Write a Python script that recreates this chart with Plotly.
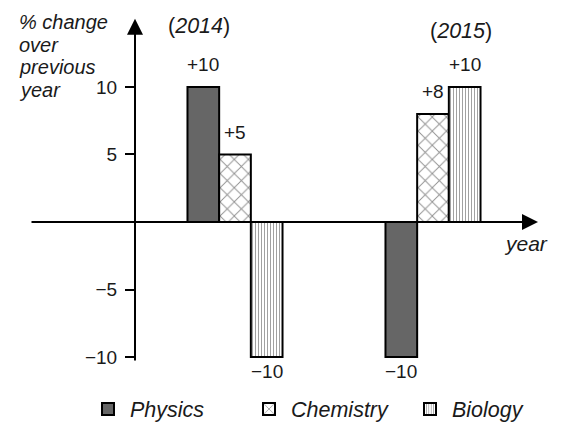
import plotly.graph_objects as go

# ---- data ----
years = ["2014", "2015"]
subjects = ["Physics", "Chemistry", "Biology"]
physics = [10, -10]
chemistry = [5, 8]
biology = [-10, 10]
y_ticks = [-10, -5, 5, 10]

series = {"Physics": physics, "Chemistry": chemistry, "Biology": biology}

# ---- styles ----
FONT = "Liberation Sans, Arial, sans-serif"
TXT = "#1a1a1a"
styles = {
    "Physics": dict(color="#666666", line=dict(color="black", width=2)),
    "Chemistry": dict(color="white", line=dict(color="black", width=2),
                      pattern=dict(shape="x", size=10, solidity=0.18,
                                   fgcolor="#222222", bgcolor="white", fillmode="overlay")),
    "Biology": dict(color="white", line=dict(color="black", width=2),
                    pattern=dict(shape="|", size=3, solidity=0.35,
                                 fgcolor="#444444", bgcolor="white", fillmode="overlay")),
}

# page has an 8px body margin: figure is offset by OFF
OFF = 8
W, H = 565 - OFF, 423 - OFF
PT, PB = 18, 362          # plot area top/bottom in page pixels
PH = PB - PT

xpos = list(range(len(years)))
BARGAP = 0.52
bar_w = (1 - BARGAP) / len(subjects)
X0_PAGE, X_UNIT = 235, 198  # page pixel of first year, pixels per year


def xdata(page_x):
    return (page_x - X0_PAGE) / X_UNIT


def px(page_x):
    return (page_x - OFF) / W


def py(page_y):
    return (PB - page_y) / PH


fig = go.Figure()
for s in subjects:
    fig.add_trace(go.Bar(x=xpos, y=series[s], name=s, marker=styles[s]))


def fmt(v):
    return f"+{v}" if v > 0 else f"\u2212{abs(v)}"


# value labels
for i, s in enumerate(subjects):
    for j, v in enumerate(series[s]):
        fig.add_annotation(x=xpos[j] + (i - 1) * bar_w, y=v, xref="x", yref="y",
                           text=fmt(v), showarrow=False, yanchor="middle",
                           yshift=22 if v > 0 else -14,
                           font=dict(family=FONT, size=19, color=TXT))

# axes drawn as arrows
Y_TOP, Y_BOT = 15.11, -10.37
X_LEFT, X_RIGHT = xdata(OFF), xdata(565)
yaxis_x = xdata(135)
fig.add_annotation(x=yaxis_x, y=15.05, ax=yaxis_x, ay=Y_BOT, xref="x", yref="y",
                   axref="x", ayref="y", text="", showarrow=True, arrowhead=2,
                   arrowsize=1.6, arrowwidth=2, arrowcolor="black", standoff=0)
fig.add_annotation(x=xdata(538), y=0, ax=xdata(30), ay=0, xref="x", yref="y",
                   axref="x", ayref="y", text="", showarrow=True, arrowhead=2,
                   arrowsize=1.6, arrowwidth=2, arrowcolor="black", standoff=0)

for k, line in enumerate(["% change", "over", "previous", "year"]):
    fig.add_annotation(x=px(17), y=py(22 + k * 22.7), xref="paper", yref="paper",
                       xanchor="left", yanchor="middle", text=line, showarrow=False,
                       font=dict(family=FONT, size=20, color=TXT, style="italic"))

fig.add_annotation(x=px(526), y=py(243), xref="paper", yref="paper",
                   text="year", showarrow=False, xanchor="center", yanchor="middle",
                   font=dict(family=FONT, size=21, color=TXT, style="italic"))

for yr, cx, cy in [(years[0], 199, 26), (years[1], 461, 31)]:
    fig.add_annotation(x=px(cx), y=py(cy), xref="paper", yref="paper",
                       text=f"(<i>{yr}</i>)", showarrow=False, xanchor="center", yanchor="middle",
                       font=dict(family=FONT, size=21.5, color=TXT))

fig.update_layout(
    width=W, height=H,
    margin=dict(l=0, r=0, t=PT - OFF, b=H - (PB - OFF), autoexpand=False),
    paper_bgcolor="white", plot_bgcolor="white",
    barmode="group", bargap=BARGAP, bargroupgap=0,
    showlegend=True,
    legend=dict(orientation="h", x=px(86), xanchor="left", y=py(409), yanchor="middle",
                font=dict(family=FONT, size=21.5, color=TXT, style="italic"),
                itemwidth=34, entrywidth=112, entrywidthmode="pixels",
                bgcolor="rgba(0,0,0,0)"),
    xaxis=dict(range=[X_LEFT, X_RIGHT], visible=False, fixedrange=True),
    yaxis=dict(range=[Y_BOT, Y_TOP], anchor="free", position=px(135),
               showline=False, showgrid=False, zeroline=False,
               tickvals=y_ticks, ticks="outside", ticklen=10, tickwidth=2,
               tickcolor="black", ticklabelstandoff=4,
               tickfont=dict(family=FONT, size=19, color=TXT)),
)

fig.write_html("out.html")
